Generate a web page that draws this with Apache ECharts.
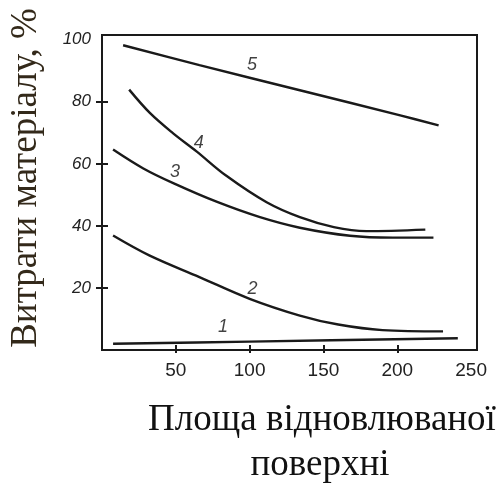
<!DOCTYPE html>
<html>
<head>
    <meta charset="utf-8">
    <title>Витрати матеріалу</title>
    <script src="https://cdn.jsdelivr.net/npm/echarts@6/dist/echarts.min.js"></script>
    <style>
        html, body { margin: 0; padding: 0; background: #fff; }
        #chart { width: 496px; height: 483px; }
    </style>
</head>
<body>
<div id="chart"></div>
<script type="text/javascript">
    // дані кривих, [площа, витрати %]
    var curve1 = [[7.5, 2.0], [100, 2.7], [241, 3.8]];
    var curve2 = [[7.5, 36.9], [32, 30.5], [66, 23.5], [100, 16.5], [134, 11.1], [160, 8.2], [190, 6.4], [231, 6.0]];
    var curve3 = [[7.5, 64.6], [28, 58.5], [49, 53.6], [78, 47.7], [107, 42.8], [134, 39.4], [168, 36.8], [197, 36.2], [224.5, 36.2]];
    var curve4 = [[18.4, 83.9], [32.4, 76.4], [48, 69.9], [64, 64.0], [84, 56.2], [111.5, 47.6], [134, 42.8], [157, 39.6], [179, 38.3], [219, 38.8]];
    var curve5 = [[14.3, 98.2], [66, 91.8], [134, 83.7], [202, 75.6], [228, 72.4]];
    // номери кривих: [текст, x, y]
    var curveLabels = [['1', 82, 7.3], ['2', 102, 19.8], ['3', 49.4, 57.3], ['4', 65.5, 66.8], ['5', 101.6, 91.8]];
    var xTicks = [50, 100, 150, 200];
    var xTickLabels = [50, 100, 150, 200, 250];
    var yTicks = [20, 40, 60, 80];
    var yTickLabels = [20, 40, 60, 80, 100];

    var lineColor = '#1a1a1a';
    var numFont = "'Liberation Sans Narrow', 'Arial Narrow', 'Liberation Sans', sans-serif";
    var gridPos = {left: 102, top: 35, right: 19, bottom: 133};

    var myChart = echarts.init(document.getElementById('chart'), null, {renderer: 'canvas'});

    function curve(data) {
        return {
            type: 'line',
            data: data,
            smooth: 0.35,
            showSymbol: false,
            silent: true,
            lineStyle: {color: lineColor, width: 2.4}
        };
    }

    var option = {
        animation: false,
        grid: [
            Object.assign({show: true, borderColor: lineColor, borderWidth: 2}, gridPos),
            // друга сітка на тому ж місці, лише для рисок усередину
            Object.assign({show: false}, gridPos)
        ],
        xAxis: [{
            type: 'value', min: 0, max: 254,
            axisLine: {lineStyle: {color: lineColor, width: 2}},
            axisTick: {customValues: xTicks, inside: false, length: 3, lineStyle: {color: lineColor, width: 2}},
            axisLabel: {
                customValues: xTickLabels, margin: 11,
                color: '#222', fontSize: 19, fontFamily: numFont
            },
            splitLine: {show: false}
        }, {
            gridIndex: 1, type: 'value', min: 0, max: 254,
            axisLine: {show: false},
            axisTick: {show: true, customValues: xTicks, inside: true, length: 5, lineStyle: {color: lineColor, width: 2}},
            axisLabel: {show: false},
            splitLine: {show: false}
        }],
        yAxis: [{
            type: 'value', min: 0, max: 101.5,
            axisLine: {show: true, lineStyle: {color: lineColor, width: 2}},
            axisTick: {show: true, customValues: yTicks, inside: false, length: 6, lineStyle: {color: lineColor, width: 2}},
            axisLabel: {
                customValues: yTickLabels, margin: 11,
                color: '#222', fontSize: 17, fontStyle: 'italic', fontFamily: numFont
            },
            splitLine: {show: false}
        }, {
            gridIndex: 1, type: 'value', min: 0, max: 101.5,
            axisLine: {show: false},
            axisTick: {show: true, customValues: yTicks, inside: true, length: 6, lineStyle: {color: lineColor, width: 2}},
            axisLabel: {show: false},
            splitLine: {show: false}
        }],
        series: [
            curve(curve1), curve(curve2), curve(curve3), curve(curve4), curve(curve5),
            {
                type: 'scatter',
                symbolSize: 0,
                silent: true,
                data: curveLabels.map(function (d) {
                    return {name: d[0], value: [d[1], d[2]]};
                }),
                label: {
                    show: true, position: 'inside', formatter: '{b}',
                    color: '#111', fontSize: 18, fontStyle: 'italic', fontFamily: numFont
                }
            }
        ],
        graphic: [{
            type: 'text',
            x: 26, y: 178,
            rotation: Math.PI / 2,
            style: {
                text: 'Витрати матеріалу, %',
                font: "37px 'Liberation Serif', serif",
                fill: '#33291a',
                align: 'center',
                verticalAlign: 'middle'
            }
        }, {
            type: 'text',
            x: 322, y: 420,
            style: {
                text: 'Площа відновлюваної',
                font: "37px 'Liberation Serif', serif",
                fill: '#111',
                align: 'center',
                verticalAlign: 'middle'
            }
        }, {
            type: 'text',
            x: 320, y: 465,
            style: {
                text: 'поверхні',
                font: "37px 'Liberation Serif', serif",
                fill: '#111',
                align: 'center',
                verticalAlign: 'middle'
            }
        }]
    };

    myChart.setOption(option);
</script>
</body>
</html>
